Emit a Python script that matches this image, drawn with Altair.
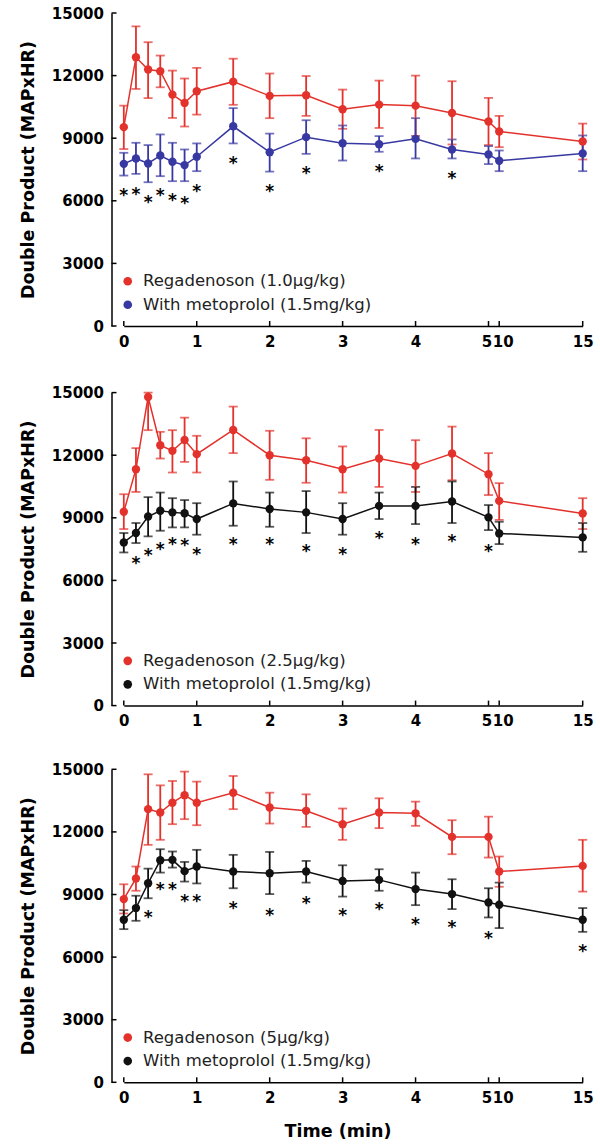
import altair as alt
import pandas as pd

# ---------------- data ----------------
T = [0, 1/6, 2/6, 3/6, 4/6, 5/6, 1, 1.5, 2, 2.5, 3, 3.5, 4, 4.5, 5, 10, 15]

p1_red_name = "Regadenoson (1.0µg/kg)"
p1_red_mean = [9530, 12880, 12290, 12210, 11090, 10690, 11250, 11710, 11030, 11060, 10390, 10610, 10560, 10210, 9800, 9320, 8840]
p1_red_hi = [10560, 14360, 13600, 12960, 12240, 11860, 12370, 12810, 12100, 11980, 11330, 11760, 12000, 11730, 10930, 10070, 9700]
p1_red_lo = [8480, 11360, 10920, 11440, 9970, 9560, 10130, 10600, 9960, 10070, 9450, 9490, 9110, 8700, 8670, 8570, 7980]
p1_met_name = "With metoprolol (1.5mg/kg)"
p1_met_mean = [7770, 8030, 7790, 8170, 7870, 7710, 8110, 9570, 8330, 9050, 8760, 8710, 8970, 8460, 8220, 7920, 8270]
p1_met_hi = [8300, 8780, 8670, 9180, 8780, 8460, 8750, 10440, 9220, 9860, 9610, 9100, 9960, 8940, 8620, 8410, 9130]
p1_met_lo = [7210, 7290, 6890, 7180, 6940, 6940, 7420, 8750, 7400, 8250, 7930, 8350, 8030, 8030, 7760, 7420, 7420]
p1_star_t = [0, 1/6, 2/6, 3/6, 4/6, 5/6, 1, 1.5, 2, 2.5, 3.5, 4.5]
p1_star_y = [6420, 6460, 6110, 6420, 6180, 6060, 6620, 7950, 6620, 7470, 7580, 7250]

p2_red_name = "Regadenoson (2.5µg/kg)"
p2_red_mean = [9290, 11330, 14790, 12480, 12210, 12730, 12050, 13210, 12000, 11760, 11330, 11840, 11490, 12080, 11090, 9810, 9210]
p2_red_hi = [10130, 12340, 15000, 13120, 13200, 13800, 12930, 14330, 13170, 12810, 12420, 13210, 12720, 13370, 12100, 10660, 9940]
p2_red_lo = [8460, 10240, 13200, 11840, 11170, 11680, 11170, 12100, 10820, 10680, 10210, 10480, 10240, 10800, 10090, 8900, 8460]
p2_met_name = "With metoprolol (1.5mg/kg)"
p2_met_mean = [7820, 8270, 9060, 9340, 9260, 9220, 8940, 9690, 9420, 9260, 8940, 9570, 9570, 9780, 9020, 8250, 8060]
p2_met_hi = [8270, 8750, 9990, 10210, 9940, 9850, 9700, 10740, 10210, 10280, 9700, 10210, 10480, 10740, 9610, 8810, 8750]
p2_met_lo = [7340, 7790, 8110, 8380, 8540, 8540, 8190, 8620, 8570, 8270, 8190, 8940, 8700, 8750, 8410, 7740, 7370]
p2_star_t = [1/6, 2/6, 3/6, 4/6, 5/6, 1, 1.5, 2, 2.5, 3, 3.5, 4, 4.5, 5]
p2_star_y = [6990, 7340, 7660, 7870, 7820, 7420, 7900, 7900, 7530, 7420, 8170, 7900, 8010, 7560]

p3_red_name = "Regadenoson (5µg/kg)"
p3_red_mean = [8780, 9770, 13090, 12930, 13400, 13760, 13400, 13880, 13170, 13010, 12370, 12930, 12890, 11760, 11760, 10100, 10370]
p3_red_hi = [9490, 10340, 14760, 14230, 14440, 14890, 14410, 14680, 13880, 13800, 13120, 13610, 13450, 12560, 12730, 10820, 11620]
p3_red_lo = [8090, 9180, 11380, 11620, 12370, 12610, 12320, 13090, 12400, 12240, 11620, 12180, 12290, 10930, 10770, 9370, 9140]
p3_met_name = "With metoprolol (1.5mg/kg)"
p3_met_mean = [7790, 8350, 9540, 10640, 10660, 10120, 10340, 10100, 10020, 10100, 9650, 9700, 9260, 9020, 8620, 8510, 7790]
p3_met_hi = [8250, 8940, 10240, 11170, 11060, 10560, 11140, 10900, 11040, 10610, 10400, 10210, 10050, 9730, 9300, 9570, 8350]
p3_met_lo = [7340, 7740, 8820, 10050, 10290, 9620, 9530, 9300, 9020, 9570, 8900, 9180, 8490, 8300, 7900, 7390, 7210]
p3_star_t = [2/6, 3/6, 4/6, 5/6, 1, 1.5, 2, 2.5, 3, 3.5, 4, 4.5, 5, 15]
p3_star_y = [8060, 9420, 9420, 8820, 8820, 8510, 8140, 8740, 8140, 8430, 7710, 7580, 7070, 6430]

x_ticks = [0, 1, 2, 3, 4, 5, 10, 15]
y_ticks = [0, 3000, 6000, 9000, 12000, 15000]

RED = "#e3312b"
BLUE = "#3838a3"
BLACK = "#111111"

W = 472
H = 313
FONT = "DejaVu Sans"
YTITLE = "Double Product (MAPxHR)"

xscale = alt.Scale(domain=[0, 5, 10, 15], range=[12.3, 377, 387.7, 471.2], nice=False, zero=False)
yscale = alt.Scale(domain=[0, 15000], nice=False, zero=False)


def panel(red_name, red_mean, red_lo, red_hi, met_name, met_mean, met_lo, met_hi,
          met_color, star_t, star_y, xtitle):
    rows = []
    cmap = {red_name: RED, met_name: met_color}
    for name, m, lo, hi in [(red_name, red_mean, red_lo, red_hi), (met_name, met_mean, met_lo, met_hi)]:
        for t, a, b, c in zip(T, m, lo, hi):
            rows.append({"t": t, "series": name, "mean": a, "lo": b, "hi": c, "clr": cmap[name]})
    df = pd.DataFrame(rows)
    cdomain = [red_name, met_name]
    crange = [RED, met_color]

    x_axis = alt.Axis(
        values=x_ticks, title=xtitle, labelOverlap=False, labelFlush=False,
        labelPadding=8, ticks=False, grid=False, titleX=226, titlePadding=17,
        labelOffset={"condition": [{"test": "datum.value == 5", "value": -2},
                                   {"test": "datum.value == 10", "value": 3.5}], "value": 0},
    )
    y_axis = alt.Axis(values=y_ticks, title=YTITLE, ticks=False, grid=False, format="d",
                      labelPadding=8, titlePadding=14)

    def X(field):
        return alt.X(field, scale=xscale, axis=x_axis, title=xtitle)

    def Y(field):
        return alt.Y(field, scale=yscale, axis=y_axis, title=YTITLE)

    fixed = alt.Color("clr:N", scale=None)

    lines = alt.Chart(df).mark_line(strokeWidth=1.5).encode(
        x=X("t:Q"), y=Y("mean:Q"), color=fixed, detail="series:N",
    )
    err = alt.Chart(df).mark_errorbar(ticks=True, size=9, thickness=1.8).encode(
        x=X("t:Q"), y=Y("lo:Q"), y2="hi:Q", color=fixed, detail="series:N",
    )
    pts = alt.Chart(df).mark_circle(size=70, opacity=1, fillOpacity=1).encode(
        x=X("t:Q"), y=Y("mean:Q"),
        color=alt.Color("series:N", scale=alt.Scale(domain=cdomain, range=crange),
                        legend=alt.Legend(orient="none", legendX=8, legendY=260, title=None,
                                          labelFont=FONT, labelFontSize=16.5, labelColor="#222222",
                                          symbolType="circle", symbolSize=75, symbolOpacity=1,
                                          symbolStrokeWidth=0,
                                          rowPadding=6.5, labelOffset=7, padding=0, labelLimit=400)),
    )
    stars = alt.Chart(pd.DataFrame({"t": star_t, "y": star_y})).mark_text(
        text="*", font=FONT, fontSize=17, fontWeight="bold", color="black", baseline="middle", dy=4
    ).encode(x=X("t:Q"), y=Y("y:Q"))
    yt = alt.Chart(pd.DataFrame({"v": y_ticks})).mark_rule(color="black", strokeWidth=1.5).encode(
        y=Y("v:Q"), x=alt.value(0), x2=alt.value(5)
    )
    xt = alt.Chart(pd.DataFrame({"v": x_ticks})).mark_rule(color="black", strokeWidth=1.5).encode(
        x=X("v:Q"), y=alt.value(H), y2=alt.value(H - 5)
    )
    return alt.layer(lines, err, pts, stars, yt, xt).properties(width=W, height=H)


p1 = panel(p1_red_name, p1_red_mean, p1_red_lo, p1_red_hi, p1_met_name, p1_met_mean, p1_met_lo, p1_met_hi,
           BLUE, p1_star_t, p1_star_y, None)
p2 = panel(p2_red_name, p2_red_mean, p2_red_lo, p2_red_hi, p2_met_name, p2_met_mean, p2_met_lo, p2_met_hi,
           BLACK, p2_star_t, p2_star_y, None)
p3 = panel(p3_red_name, p3_red_mean, p3_red_lo, p3_red_hi, p3_met_name, p3_met_mean, p3_met_lo, p3_met_hi,
           BLACK, p3_star_t, p3_star_y, "Time (min)")

top = alt.vconcat(p1, p2, spacing=36.6).resolve_scale(color="independent")
chart = alt.vconcat(top, p3, spacing=33.3).resolve_scale(
    color="independent"
).configure_view(
    stroke=None
).configure_circle(
    opacity=1, fillOpacity=1
).configure_legend(
    symbolOpacity=1
).configure_axis(
    labelFont=FONT, labelFontSize=15, labelFontWeight="bold", labelColor="black",
    titleFont=FONT, titleFontSize=17.5, titleFontWeight="bold", titleColor="black",
    domainColor="black", domainWidth=1.5,
).properties(padding={"left": 18.5, "top": 6, "right": 5, "bottom": 5})

chart.save("out.html", embed_options={"renderer": "svg", "actions": False})
